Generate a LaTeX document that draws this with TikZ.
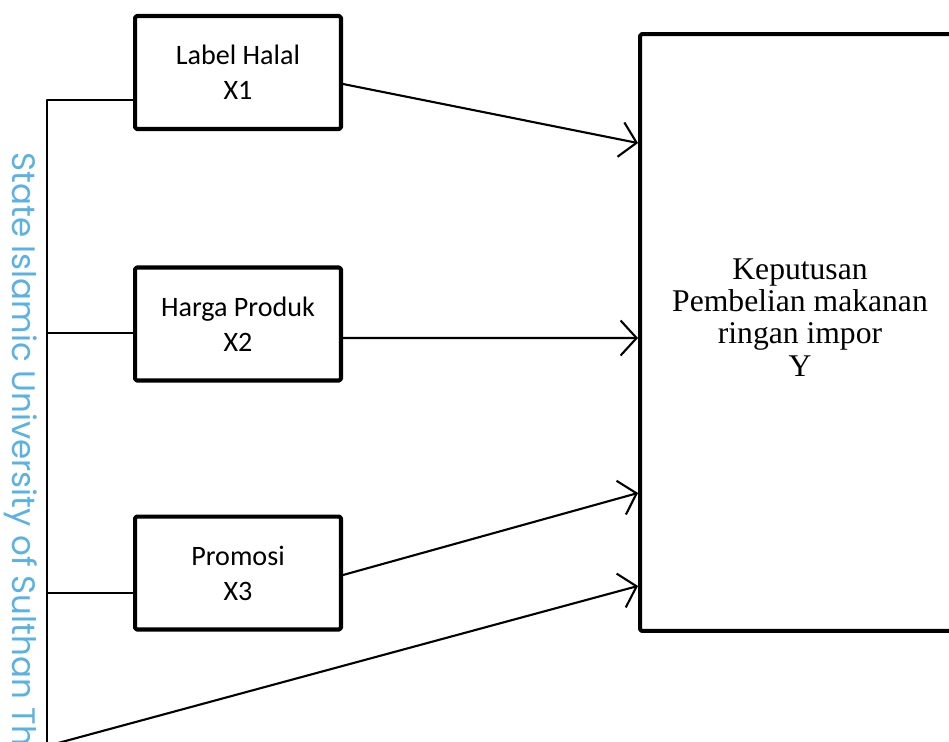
\documentclass[tikz,border=0pt]{standalone}
\usepackage{fontspec}
\usepackage{tikz}
\usetikzlibrary{arrows.meta,positioning}
\newfontfamily\kpsans{Carlito}
\newfontfamily\kpserif{Liberation Serif}
\newfontfamily\kpmark{Poppins}
\definecolor{kpMark}{HTML}{5AB2E4}
\tikzset{
  kp diagram/.style={x=0.02cm, y=-0.02cm, line cap=round, line join=round},
  kp var/.style={draw, line width=2.3pt, rounded corners=1pt, fill=white,
    minimum width=4.12cm, minimum height=2.26cm, align=center, inner sep=2pt,
    font=\kpsans\fontsize{16}{20}\selectfont},
  kp target/.style={draw, line width=2.3pt, rounded corners=1pt, fill=white,
    minimum width=6.4cm, minimum height=11.94cm},
  kp target text/.style={align=center, inner sep=0pt,
    font=\kpserif\fontsize{18}{18.3}\selectfont},
  kp arrow/.style={-{Straight Barb[length=3.2mm, width=7mm, line width=1.2pt]}, line width=1.2pt},
  kp tree/.style={line width=0.9pt},
  kp mark/.style={font=\kpmark\fontsize{18.5}{18.5}\selectfont, text=kpMark,
    rotate=-90, anchor=base west, inner sep=0pt}
}
\begin{document}
\begin{tikzpicture}[kp diagram]
\useasboundingbox (0,0) rectangle (949,741);
\node[kp mark] (mark) at (12,152) {State Islamic University of Sulthan Th};
% variables
\foreach \n/\t/\yy in {1/Label Halal/72.5, 2/Harga Produk/324, 3/Promosi/573}
  \node[kp var] (x\n) at (238,\yy) {\t\\X\n};
\node[kp target] (y) at (800,332.5) {};
\node[kp target text] (ytext) at ([yshift=0.3cm]y.center) {Keputusan\\Pembelian makanan\\ringan impor\\Y};
% left bracket
\coordinate (base) at (47,746);
\coordinate (t1) at ([yshift=-0.55cm]x1.west);
\coordinate (t2) at ([yshift=-0.18cm]x2.west);
\coordinate (t3) at ([yshift=-0.4cm]x3.west);
\draw[kp tree] (t1) -| (base);
\draw[kp tree] (t2) -- (t2 -| base);
\draw[kp tree] (t3) -- (t3 -| base);
% arrows into Y
\draw[kp arrow] ([yshift=-0.23cm]x1.east) -- ([yshift=3.79cm]y.west);
\draw[kp arrow] ([yshift=-0.28cm]x2.east) -- ([yshift=-0.11cm]y.west);
\draw[kp arrow] ([yshift=-0.04cm]x3.east) -- ([yshift=-3.21cm]y.west);
\draw[kp arrow] (base) -- ([yshift=-5.07cm]y.west);
\end{tikzpicture}
\end{document}
